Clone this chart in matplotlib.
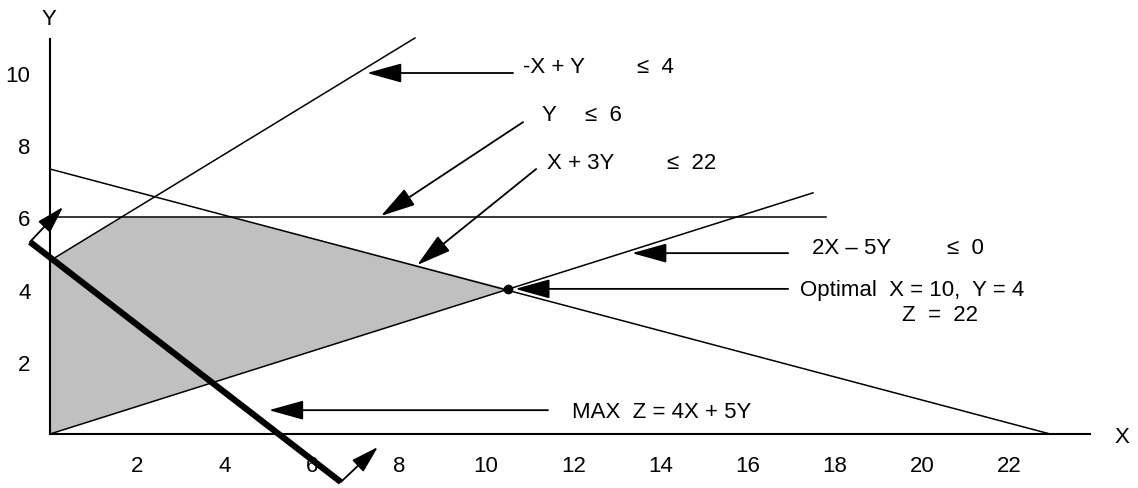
import numpy as np
import matplotlib.pyplot as plt

plt.rcParams['font.family'] = ['Liberation Sans', 'DejaVu Sans']

# constraint lines, endpoints
negx_y_x = [0, 8.37]
negx_y_y = [4.8, 10.97]
y6_x = [0, 17.8]
y6_y = [6, 6]
x3y_x = [0, 22.94]
x3y_y = [7.34, 0]
x5y_x = [0, 17.5]
x5y_y = [0, 6.68]

# iso-profit line Z = 4X + 5Y (thick one)
z_x = [-0.46, 6.67]
z_y = [5.32, -1.33]

# feasible region corners
region_x = [0, 0, 1.63, 4.21, 10.5]
region_y = [0, 4.8, 6, 6, 4.02]

opt_x = 10.5
opt_y = 4.02

xticks = [2, 4, 6, 8, 10, 12, 14, 16, 18, 20, 22]
yticks = [2, 4, 6, 8, 10]

fs = 16

fig = plt.figure(figsize=(11.38, 4.89), dpi=100)
ax = fig.add_axes([0, 0, 1, 1])
ax.set_xlim(-1.147, 24.954)
ax.set_ylim(-1.496, 12.05)

# axes through the origin
ax.spines['left'].set_position(('data', 0))
ax.spines['bottom'].set_position(('data', 0))
ax.spines['left'].set_bounds(0, 10.94)
ax.spines['bottom'].set_bounds(0, 23.85)
ax.spines[['top', 'right']].set_visible(False)
for s in ['left', 'bottom']:
    ax.spines[s].set_linewidth(1.5)
ax.set_xticks(xticks)
ax.set_yticks(yticks)
ax.tick_params(axis='x', length=0, labelsize=fs, pad=15)
ax.tick_params(axis='y', length=0, labelsize=fs, pad=14)
ax.text(24.59, -0.08, 'X', fontsize=fs, ha='center', va='center')
ax.text(-0.02, 11.5, 'Y', fontsize=fs, ha='center', va='center')

ax.fill(region_x, region_y, color='#c0c0c0', lw=0, zorder=1)

lw = 1.1
ax.plot(negx_y_x, negx_y_y, 'k', lw=lw)
ax.plot(y6_x, y6_y, 'k', lw=lw)
ax.plot(x3y_x, x3y_y, 'k', lw=lw)
ax.plot(x5y_x, x5y_y, 'k', lw=lw)
ax.plot(opt_x, opt_y, 'ko', ms=6)

ax.plot(z_x, z_y, 'k', lw=4.5, solid_capstyle='butt', zorder=4)


def arrow(tail, head, hl=1.08, hw=0.3):
    ax.annotate('', xy=head, xytext=tail,
                arrowprops=dict(arrowstyle=f'-|>,head_length={hl},head_width={hw}',
                                color='black', lw=1.3, mutation_scale=20,
                                shrinkA=0, shrinkB=0))


# perpendicular arrows at ends of the profit line
arrow((z_x[0], z_y[0]), (0.30, 6.29), 0.85, 0.25)
arrow((z_x[1], z_y[1]), (7.52, -0.36), 0.85, 0.25)

arrow((10.62, 10.0), (7.27, 10.0))
arrow((10.85, 8.64), (7.59, 6.04))
arrow((11.15, 7.34), (8.42, 4.68))
arrow((16.93, 5.01), (13.35, 5.01))
arrow((16.93, 4.02), (10.67, 4.02))
arrow((11.42, 0.66), (5.02, 0.66))

ax.text(10.85, 10.17, '-X + Y', fontsize=fs, va='center')
ax.text(13.46, 10.17, '≤  4', fontsize=fs, va='center')
ax.text(11.28, 8.86, 'Y', fontsize=fs, va='center')
ax.text(12.27, 8.86, '≤  6', fontsize=fs, va='center')
ax.text(11.40, 7.53, 'X + 3Y', fontsize=fs, va='center')
ax.text(14.15, 7.53, '≤  22', fontsize=fs, va='center')
ax.text(17.48, 5.18, '2X – 5Y', fontsize=fs, va='center')
ax.text(20.57, 5.18, '≤  0', fontsize=fs, va='center')
ax.text(17.2, 3.99, 'Optimal  X = 10,  Y = 4', fontsize=fs, va='center')
ax.text(19.54, 3.30, 'Z  =  22', fontsize=fs, va='center')
ax.text(11.97, 0.61, 'MAX  Z = 4X + 5Y', fontsize=fs, va='center')

plt.savefig('out.png', dpi=100)
